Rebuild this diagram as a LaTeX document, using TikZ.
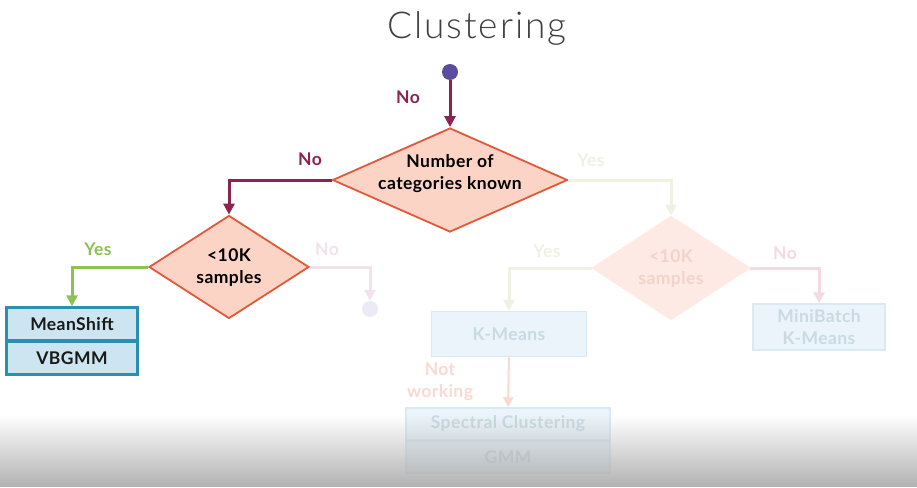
\documentclass[tikz,border=0pt]{standalone}
\usepackage{fontspec}
\setmainfont{Lato}[LetterSpace=2.5]
\newfontfamily\titlefont{Lato Light}[LetterSpace=5]
\usetikzlibrary{shapes.geometric,arrows.meta,fadings}
\definecolor{maroon}{HTML}{8C2453}
\definecolor{dotpurple}{HTML}{5B4C9F}
\definecolor{decline}{HTML}{E0593A}
\definecolor{decfill}{HTML}{FBD4C6}
\definecolor{yesgreen}{HTML}{8DC152}
\definecolor{teal}{HTML}{2C8FB0}
\definecolor{boxfill}{HTML}{CDE5F0}
\definecolor{fgreen}{HTML}{EDF2E3}
\definecolor{fdecfill}{HTML}{FDEAE4}
\definecolor{fdectext}{HTML}{F2D3CA}
\definecolor{fpink}{HTML}{F3DAE3}
\definecolor{fboxfill}{HTML}{EAF4FA}
\definecolor{fboxline}{HTML}{D9EAF3}
\definecolor{fboxtext}{HTML}{C9DAE3}
\definecolor{fpeach}{HTML}{FAD9D2}
\definecolor{flav}{HTML}{ECEAF5}
\definecolor{fmaroon}{HTML}{F2E3EA}
\begin{document}
\begin{tikzpicture}[x=1pt,y=-1pt,
  txt/.style={font=\bfseries\fontsize{17.5}{22}\selectfont, align=center},
  dec/.style={shape=diamond, draw=decline, fill=decfill, line width=1.8pt, inner sep=0pt},
  fdec/.style={dec, draw=fdecfill, fill=fdecfill},
  conn/.style={line width=3pt, -{Triangle[length=11pt,width=11pt]}},
  lbl/.style={txt},
  algbox/.style={txt, draw=teal, fill=boxfill, line width=2.5pt, minimum width=131pt, minimum height=33pt, inner sep=0pt, text=black!90},
  fbox/.style={txt, draw=fboxline, fill=fboxfill, line width=1.5pt, inner sep=0pt, text=fboxtext}]
\useasboundingbox (0,0) rectangle (917,487);
\fill[white] (0,0) rectangle (917,487);

% title
\node[font=\titlefont\fontsize{37}{40}\selectfont, text=black!75] (title) at (477,28) {Clustering};

% start
\node[circle, fill=dotpurple, minimum size=16pt, inner sep=0pt] (start) at (450,72) {};

% decisions
\node[dec, minimum width=235pt, minimum height=104pt] (d1) at (450,180) {};
\node[txt, text=black] (d1t) at (450,174) {Number of\\categories known};
\node[dec, minimum width=160pt, minimum height=103pt] (d2) at (229,267) {};
\node[txt, text=black] (d2t) at (229,268) {<10K\\samples};
\node[fdec, minimum width=157pt, minimum height=103pt] (d3) at (671,268) {};
\node[txt, text=fdectext] (d3t) at (671,269) {<10K\\samples};

% boxes
\node[algbox] (ms) at (72,324) {MeanShift};
\node[algbox] (vb) at (72,358) {VBGMM};
\node[fbox, minimum width=155pt, minimum height=45pt] (km) at (509,334) {K-Means};
\node[fbox, minimum width=132pt, minimum height=46pt] (mb) at (819,327) {MiniBatch\\K-Means};
\node[fbox, minimum width=204pt, minimum height=32pt] (sc) at (508,424) {Spectral Clustering};
\node[fbox, minimum width=204pt, minimum height=32pt, fill=fboxfill!85!fboxline] (gm) at (508,457) {GMM};
\node[circle, fill=flav, minimum size=16pt, inner sep=0pt] (end2) at (370,309) {};

% connectors
\draw[conn, maroon] (start) -- (d1.north);
\draw[conn, maroon] (d1.west) -| (d2.north);
\draw[conn, yesgreen] (d2.west) -| (ms.north);
\draw[conn, fmaroon] (d2.east) -| (end2.north);
\draw[conn, fgreen] (d1.east) -| (d3.north);
\draw[conn, fgreen] (d3.west) -| (km.north);
\draw[conn, fpink] (d3.east) -| (mb.north);
\draw[line width=2pt, fpeach, -{Triangle[length=10pt,width=10pt]}] (km.south) -- (sc.north);

% labels
\node[lbl, text=maroon] (l1) at (408,97) {No};
\node[lbl, text=maroon] (l2) at (310,159) {No};
\node[lbl, text=yesgreen] (l3) at (98,249) {Yes};
\node[lbl, text=fmaroon] (l4) at (327,249) {No};
\node[lbl, text=fgreen] (l5) at (591,160) {Yes};
\node[lbl, text=fgreen] (l6) at (547,251) {Yes};
\node[lbl, text=fpink] (l7) at (785,253) {No};
\node[lbl, text=fpeach] (l8) at (440,382) {Not\\working};

% bottom shade
\fill[black!30, path fading=north] (0,415) rectangle (917,487);
\end{tikzpicture}
\end{document}
